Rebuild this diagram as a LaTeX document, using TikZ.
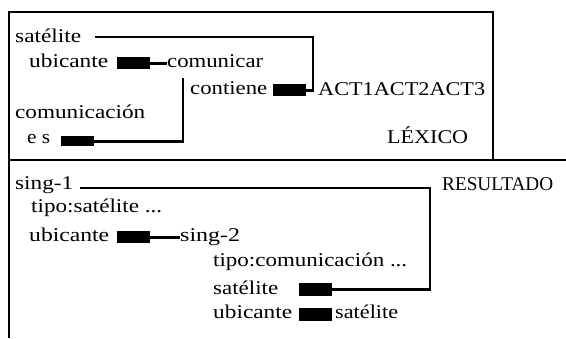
\documentclass[tikz,border=0pt]{standalone}
\usepackage{fontspec}
\usepackage{graphicx}
\setmainfont{Liberation Serif}
\usetikzlibrary{calc}
\newcommand\fitw[2]{\resizebox{#1pt}{\height}{#2}}
\begin{document}
\begin{tikzpicture}[x=1pt,y=-1pt,
  lbl/.style={anchor=base west, inner sep=0pt, font=\fontsize{19.5}{20}\selectfont},
  blk/.style={fill=black, draw=none, anchor=north west, inner sep=0pt, minimum width=33pt, minimum height=12pt},
  con/.style={line width=2.8pt},
  frame/.style={line width=1.4pt}]
\useasboundingbox (0,0) rectangle (566,338);
% frame
\draw[frame] (9,338) -- (9,12) -- (493,12) -- (493,160);
\draw[frame] (9,160) -- (566,160);
% ---- LEXICO ----
\node[lbl] (sat1) at (15,42) {\fitw{66}{satélite}};
\node[lbl] (ubi1) at (29,67) {\fitw{79}{ubicante}};
\node[blk] (b1) at (117,57) {};
\node[lbl] (com1) at (167,67) {\fitw{96}{comunicar}};
\node[lbl] (cont) at (190,94) {\fitw{77}{contiene}};
\node[blk] (b2) at (273,84) {};
\node[lbl] (act) at (318,95) {\fitw{167}{ACT1ACT2ACT3}};
\node[lbl] (comn) at (15,118) {\fitw{130}{comunicación}};
\node[lbl] (es) at (27,143) {\fitw{23}{e s}};
\node[blk, minimum height=10pt] (b3) at (61,136) {};
\node[lbl] (lex) at (387,143) {\fitw{81}{LÉXICO}};
\coordinate (s1) at (95,37);
\coordinate (c1) at (313,37);
\coordinate (v1) at (183,78);
\draw[con] (s1) -- (c1) |- (b2.east);
\draw[con] (b1.east) -- (b1.east -| com1.west);
\draw[con] (v1) |- (b3.east);
% ---- RESULTADO ----
\node[lbl] (sing1) at (15,189) {\fitw{58}{sing-1}};
\node[lbl] (res) at (442,190) {\fitw{111}{RESULTADO}};
\node[lbl] (tipo1) at (31,212) {\fitw{131}{tipo:satélite ...}};
\node[lbl] (ubi2) at (29,241) {\fitw{80}{ubicante}};
\node[blk] (b4) at (117,231) {};
\node[lbl] (sing2) at (180,241) {\fitw{60}{sing-2}};
\node[lbl] (tipo2) at (213,266) {\fitw{194}{tipo:comunicación ...}};
\node[lbl] (sat3) at (213,294) {\fitw{65}{satélite}};
\node[blk, minimum height=13pt] (b5) at (299,283) {};
\node[lbl] (ubi3) at (213,318) {\fitw{79}{ubicante}};
\node[blk, minimum height=13pt] (b6) at (299,308) {};
\node[lbl] (sat4) at (335,318) {\fitw{63}{satélite}};
\coordinate (s2) at (80,188);
\coordinate (c2) at (430,188);
\draw[con] (s2) -- (c2) |- (b5.east);
\draw[con] (b4.east) -- (b4.east -| sing2.west);
\end{tikzpicture}
\end{document}
